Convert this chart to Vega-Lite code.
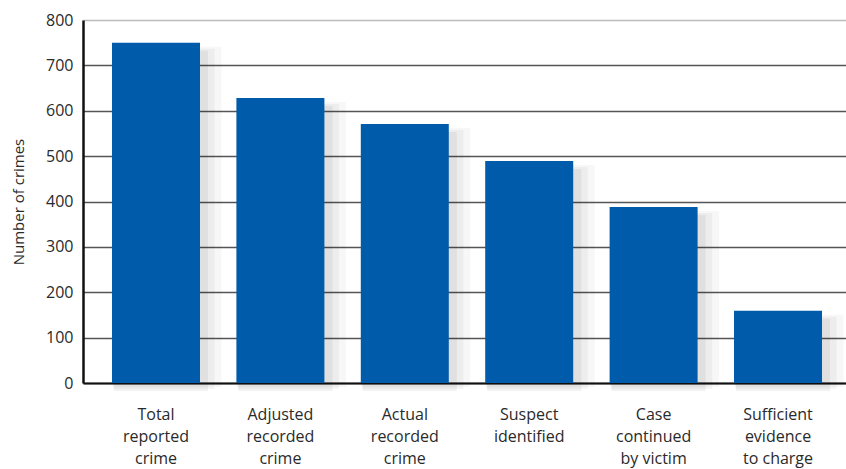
{
  "$schema": "https://vega.github.io/schema/vega-lite/v6.json",
  "autosize": "none",
  "width": 768,
  "height": 363,
  "padding": {"left": 83, "top": 20, "right": 0, "bottom": 86},
  "background": "white",
  "config": {
    "view": {"stroke": null},
    "font": "Open Sans",
    "axis": {"labelFont": "Open Sans", "titleFont": "Open Sans", "labelColor": "#2a2a2a", "titleColor": "#2a2a2a"}
  },
  "data": {
    "values": [
      {"stage": "Total|reported|crime", "crimes": 750},
      {"stage": "Adjusted|recorded|crime", "crimes": 628},
      {"stage": "Actual|recorded|crime", "crimes": 571},
      {"stage": "Suspect|identified", "crimes": 489},
      {"stage": "Case|continued|by victim", "crimes": 388},
      {"stage": "Sufficient|evidence|to charge", "crimes": 159}
    ]
  },
  "encoding": {
    "x": {
      "field": "stage",
      "type": "nominal",
      "sort": null,
      "scale": {"paddingInner": 0.2926, "paddingOuter": 0.233},
      "axis": {
        "title": null,
        "labelAngle": 0,
        "labelExpr": "split(datum.label, '|')",
        "labelFontSize": 16,
        "labelLineHeight": 22,
        "labelPadding": 23,
        "labelBaseline": "top",
        "ticks": false,
        "domainColor": "#111",
        "domainWidth": 2,
        "grid": false
      }
    },
    "y": {
      "field": "crimes",
      "type": "quantitative",
      "scale": {"domain": [0, 800], "nice": false},
      "axis": {
        "title": "Number of crimes",
        "titleFontSize": 15,
        "titleFontWeight": "normal",
        "titlePadding": 19,
        "values": [0, 100, 200, 300, 400, 500, 600, 700, 800],
        "labelFontSize": 16,
        "labelPadding": 10,
        "ticks": false,
        "domainColor": "#111",
        "domainWidth": 2.5,
        "grid": true,
        "gridColor": {"condition": {"test": "datum.value == 800", "value": "#bbbbbb"}, "value": "#555555"},
        "gridWidth": 1.5
      }
    }
  },
  "layer": [
    {"mark": {"type": "bar", "color": "#000", "opacity": 0.03, "width": {"band": 1.24}, "xOffset": 11, "y2Offset": 20, "yOffset": 4}},
    {"mark": {"type": "bar", "color": "#000", "opacity": 0.04, "width": {"band": 1.15}, "xOffset": 8, "y2Offset": 13, "yOffset": 6}},
    {"mark": {"type": "bar", "color": "#000", "opacity": 0.05, "width": {"band": 1.07}, "xOffset": 5, "y2Offset": 7, "yOffset": 8}},
    {"mark": {"type": "bar", "color": "#005bab"}}
  ]
}
